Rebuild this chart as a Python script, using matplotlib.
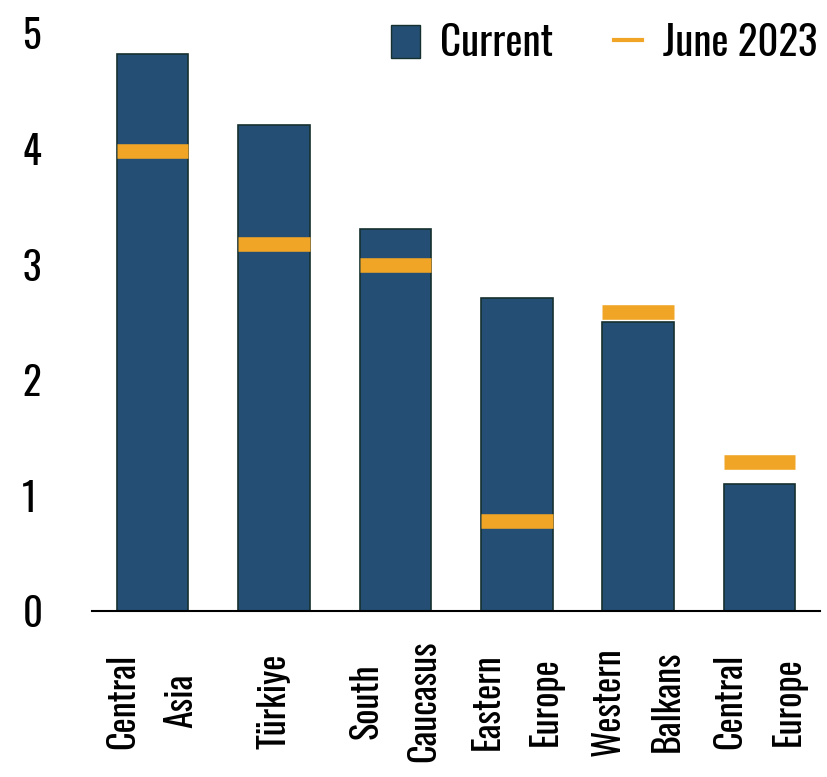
import numpy as np
import matplotlib
matplotlib.use("Agg")
import matplotlib.pyplot as plt
from matplotlib.patches import Patch
from matplotlib.lines import Line2D

# ----------------------------------------------------
# DATA

regions = ["Central\nAsia", "Türkiye", "South\nCaucasus", "Eastern\nEurope",
           "Western\nBalkans", "Central\nEurope"]
current = [4.82, 4.21, 3.31, 2.71, 2.50, 1.10]
june_2023 = [3.98, 3.18, 3.00, 0.78, 2.59, 1.29]
y_ticks = [0, 1, 2, 3, 4, 5]

# ----------------------------------------------------
# STYLE

plt.rcParams['font.family'] = ['Oswald', 'Roboto Condensed', 'DejaVu Sans']
bar_color = '#244e73'
edge_color = '#15302f'
june_color = '#f0a526'
bar_w = 0.59

# ----------------------------------------------------
# PLOT

fig = plt.figure(figsize=(8.27, 7.77), dpi=100)
ax = fig.add_axes([0.111, 0.2136, 0.881, 0.7433])

x = np.arange(len(regions))
ax.bar(x, current, width=bar_w, color=bar_color, edgecolor=edge_color, linewidth=1.2, zorder=2)
ax.hlines(june_2023, x - bar_w / 2, x + bar_w / 2, color=june_color, linewidth=10.5, zorder=3)

ax.set_xlim(-0.5, len(regions) - 0.5)
ax.set_ylim(0, 5)
ax.set_yticks(y_ticks)
ax.set_yticklabels([str(t) for t in y_ticks], fontsize=28)
ax.set_xticks(x)
ax.set_xticklabels([])

# category labels: rotated, each line centred on a common middle
line_gap = 42  # points between the two rotated lines
for xi, name in zip(x, regions):
    lines = name.split('\n')
    n = len(lines)
    for k, line in enumerate(lines):
        dx = (k - (n - 1) / 2) * line_gap
        ax.annotate(line, xy=(xi, 0), xycoords=('data', 'axes fraction'),
                    xytext=(dx, -65), textcoords='offset points',
                    rotation=90, fontsize=26, ha='center', va='center',
                    annotation_clip=False)

for s in ['top', 'right', 'left']:
    ax.spines[s].set_visible(False)
ax.spines['bottom'].set_linewidth(1.5)
ax.tick_params(axis='both', length=0)
ax.tick_params(axis='y', pad=50)
for lbl in ax.get_yticklabels():
    lbl.set_horizontalalignment('left')

handles = [Patch(facecolor=bar_color, edgecolor=edge_color, label='Current'),
           Line2D([0], [0], color=june_color, lw=3, label='June 2023')]
fig.legend(handles=handles, loc='upper right', bbox_to_anchor=(1.008, 0.992), ncol=2,
           frameon=False, handlelength=0.7, handleheight=0.85,
           handletextpad=0.5, columnspacing=1.47, borderaxespad=0.0,
           prop={'size': 29.5})

fig.savefig('out.png', dpi=100)
